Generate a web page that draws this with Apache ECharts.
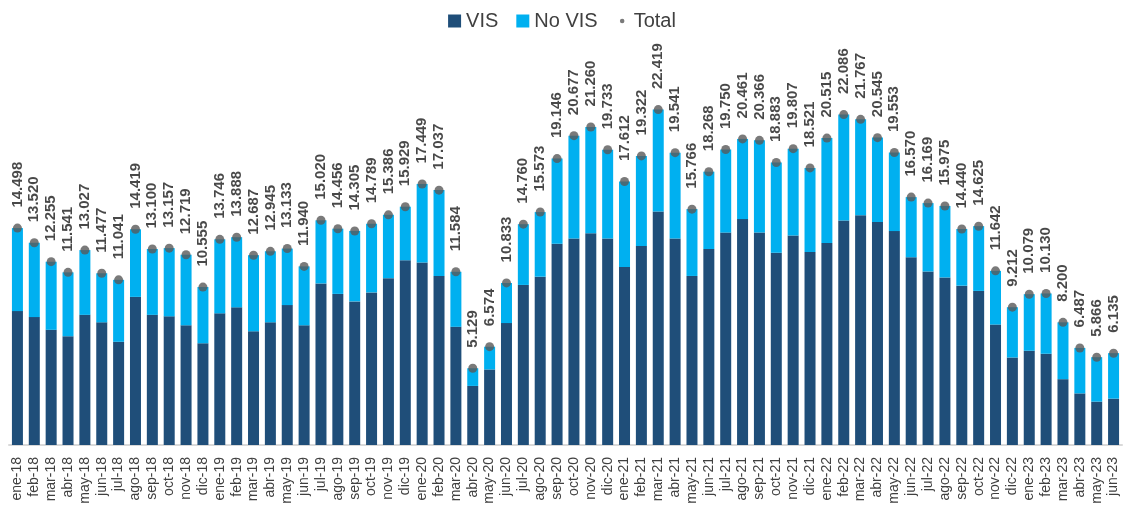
<!DOCTYPE html>
<html>
<head>
<meta charset="utf-8">
<script src="https://cdn.jsdelivr.net/npm/echarts@6/dist/echarts.min.js"></script>
<style>
html,body{margin:0;padding:0;background:#fff;}
#c{width:1124px;height:523px;}
</style>
</head>
<body>
<div id="c"></div>
<script>
const categories = [
 'ene-18','feb-18','mar-18','abr-18','may-18','jun-18','jul-18','ago-18','sep-18','oct-18','nov-18','dic-18',
 'ene-19','feb-19','mar-19','abr-19','may-19','jun-19','jul-19','ago-19','sep-19','oct-19','nov-19','dic-19',
 'ene-20','feb-20','mar-20','abr-20','may-20','jun-20','jul-20','ago-20','sep-20','oct-20','nov-20','dic-20',
 'ene-21','feb-21','mar-21','abr-21','may-21','jun-21','jul-21','ago-21','sep-21','oct-21','nov-21','dic-21',
 'ene-22','feb-22','mar-22','abr-22','may-22','jun-22','jul-22','ago-22','sep-22','oct-22','nov-22','dic-22',
 'ene-23','feb-23','mar-23','abr-23','may-23','jun-23'
];
const vis = [
 8950,8550,7700,7270,8700,8200,6900,9900,8700,8600,8000,6800,
 8800,9200,7600,8200,9350,8000,10800,10100,9600,10200,11150,12350,
 12200,11300,7900,3950,5050,8150,10700,11250,13450,13800,14150,13800,
 11900,13300,15600,13800,11300,13100,14200,15100,14200,12850,14000,12900,
 13500,15000,15350,14900,14300,12550,11600,11200,10650,10300,8050,5850,
 6300,6100,4400,3450,2900,3100
];
const noVis = [
 5550,4970,4550,4270,4330,3280,4140,4520,4400,4560,4720,3760,
 4950,4690,5090,4750,3780,3940,4220,4360,4710,4590,4240,3580,
 5250,5740,3680,1180,1520,2680,4060,4320,5700,6880,7110,5930,
 5710,6020,6820,5740,4470,5170,5550,5360,6170,6030,5810,5620,
 7020,7090,6420,5650,5250,4020,4570,4780,3790,4330,3590,3360,
 3780,4030,3800,3040,2970,3040
];
const total = [
 14498,13520,12255,11541,13027,11477,11041,14419,13100,13157,12719,10555,
 13746,13888,12687,12945,13133,11940,15020,14456,14305,14789,15386,15929,
 17449,17037,11584,5129,6574,10833,14760,15573,19146,20677,21260,19733,
 17612,19322,22419,19541,15766,18268,19750,20461,20366,18883,19807,18521,
 20515,22086,21767,20545,19553,16570,16169,15975,14440,14625,11642,9212,
 10079,10130,8200,6487,5866,6135
];

function fmt(n){ return String(n).replace(/\B(?=(\d{3})+(?!\d))/g, '.'); }

const chart = echarts.init(document.getElementById('c'));
chart.setOption({
  animation:false,
  textStyle:{fontFamily:'Liberation Sans'},
  legend:{
    top:6,
    left:'center',
    itemWidth:13,
    itemHeight:13,
    itemGap:18,
    textStyle:{fontSize:20,color:'#404040',fontFamily:'Liberation Sans'},
    data:[
      {name:'VIS',icon:'rect'},
      {name:'No VIS',icon:'rect'},
      {name:'Total',icon:'path://M0,0M20,20M10,6.5a3.5,3.5,0,1,1,0,7a3.5,3.5,0,1,1,0,-7z'}
    ]
  },
  grid:{left:9,right:2,top:71,bottom:78,containLabel:false},
  xAxis:{
    type:'category',
    data:categories,
    axisTick:{show:false},
    axisLine:{lineStyle:{color:'#d9d9d9',width:2}},
    axisLabel:{rotate:90,interval:0,margin:12,fontSize:14,color:'#404040',fontFamily:'Liberation Sans'}
  },
  yAxis:{type:'value',min:0,max:25000,show:false,splitLine:{show:false}},
  series:[
    {name:'VIS',type:'bar',stack:'a',barWidth:11,data:vis,itemStyle:{color:'#1F4E79'}},
    {name:'No VIS',type:'bar',stack:'a',barWidth:11,data:noVis,itemStyle:{color:'#00B0F0'}},
    {name:'Total',type:'scatter',z:5,symbol:'circle',symbolSize:9,data:total,
     itemStyle:{color:'#595959'},
     label:{show:true,position:'top',distance:16,rotate:90,align:'left',verticalAlign:'middle',
       fontSize:15,fontWeight:'bold',color:'#1a1a1a',fontFamily:'Liberation Sans',
       formatter:function(p){return fmt(p.value);}}
    }
  ]
});
</script>
</body>
</html>
